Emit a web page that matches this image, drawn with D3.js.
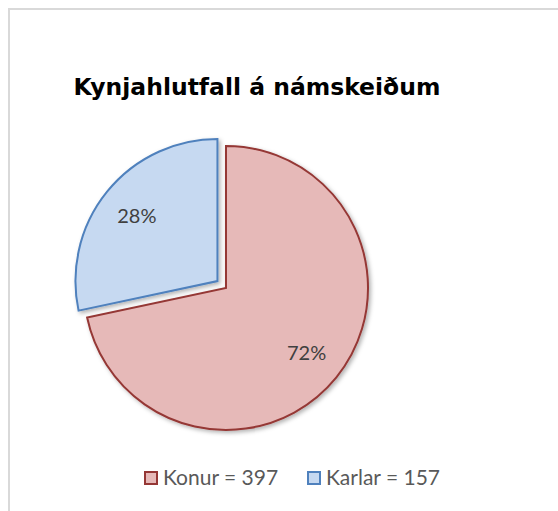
<!DOCTYPE html>
<meta charset="utf-8">
<head>
<style>
  body { margin: 0; background: #fff; }
  svg { display: block; }
</style>
</head>
<body>
<script src="https://d3js.org/d3.v7.min.js"></script>
<script>
// chart data
var title = "Kynjahlutfall á námskeiðum";
var categories = ["Konur", "Karlar"];
var counts = [397, 157];
var fills = ["#e6b9b8", "#c6d9f1"];
var strokes = ["#953735", "#4f81bd"];
var explode = [0, 11];

var width = 558, height = 511;
var cx = 226, cy = 288, r = 142;
var font = "Lato, 'Open Sans', sans-serif";

var svg = d3.select("body").append("svg")
    .attr("width", width)
    .attr("height", height);

var defs = svg.append("defs");
var f = defs.append("filter").attr("id", "shadow")
    .attr("x", "-20%").attr("y", "-20%").attr("width", "140%").attr("height", "140%");
f.append("feDropShadow")
    .attr("dx", 2).attr("dy", 2).attr("stdDeviation", 2)
    .attr("flood-color", "#000").attr("flood-opacity", 0.3);

// chart frame
svg.append("path")
    .attr("d", "M9,560 V9 H560")
    .attr("fill", "none")
    .attr("stroke", "#d9d9d9")
    .attr("stroke-width", 2);

var tt = svg.append("text")
    .attr("x", 257)
    .attr("y", 95)
    .attr("text-anchor", "middle")
    .style("font-family", "'DejaVu Sans', sans-serif")
    .style("font-weight", "bold")
    .style("font-size", "22px")
    .attr("fill", "#000")
    .text(title);
var tw = tt.node().getComputedTextLength();
tt.style("font-size", (22 * 367 / tw) + "px");

var data = categories.map(function(c, i) {
    return {name: c, value: counts[i], fill: fills[i], stroke: strokes[i], ex: explode[i]};
});
var total = d3.sum(counts);

var pie = d3.pie().sort(null).value(function(d) { return d.value; });
var arc = d3.arc().innerRadius(0).outerRadius(r);
var labelArc = d3.arc().innerRadius(r * 0.73).outerRadius(r * 0.73);

var arcs = pie(data);

var g = svg.append("g").attr("transform", "translate(" + cx + "," + cy + ")");

function offset(d) {
    var a = (d.startAngle + d.endAngle) / 2;
    return [Math.sin(a) * d.data.ex, -Math.cos(a) * d.data.ex];
}

g.selectAll("path.slice")
    .data(arcs)
    .join("path")
    .attr("class", "slice")
    .attr("transform", function(d) { var o = offset(d); return "translate(" + o[0] + "," + o[1] + ")"; })
    .attr("d", arc)
    .attr("fill", function(d) { return d.data.fill; })
    .attr("stroke", function(d) { return d.data.stroke; })
    .attr("stroke-width", 2)
    .attr("filter", "url(#shadow)");

g.selectAll("text.pct")
    .data(arcs)
    .join("text")
    .attr("class", "pct")
    .attr("transform", function(d) {
        var o = offset(d), c = labelArc.centroid(d);
        return "translate(" + (c[0] + o[0]) + "," + (c[1] + o[1]) + ")";
    })
    .attr("text-anchor", "middle")
    .attr("dy", "0.35em")
    .style("font-family", font)
    .style("font-size", "20px")
    .attr("fill", "#404040")
    .text(function(d) { return Math.round(d.data.value / total * 100) + "%"; });

// legend
var legendX = [144, 307];
var lg = svg.selectAll("g.legend")
    .data(data)
    .join("g")
    .attr("class", "legend")
    .attr("transform", function(d, i) { return "translate(" + legendX[i] + ",471)"; });

lg.append("rect")
    .attr("x", 1).attr("y", 1)
    .attr("width", 12).attr("height", 12)
    .attr("fill", function(d) { return d.fill; })
    .attr("stroke", function(d) { return d.stroke; })
    .attr("stroke-width", 2);

lg.append("text")
    .attr("x", 19)
    .attr("y", 7)
    .attr("dy", "0.35em")
    .style("font-family", font)
    .style("font-size", "21px")
    .attr("fill", "#595959")
    .text(function(d) { return d.name + " = " + d.value; });
</script>
</body>
